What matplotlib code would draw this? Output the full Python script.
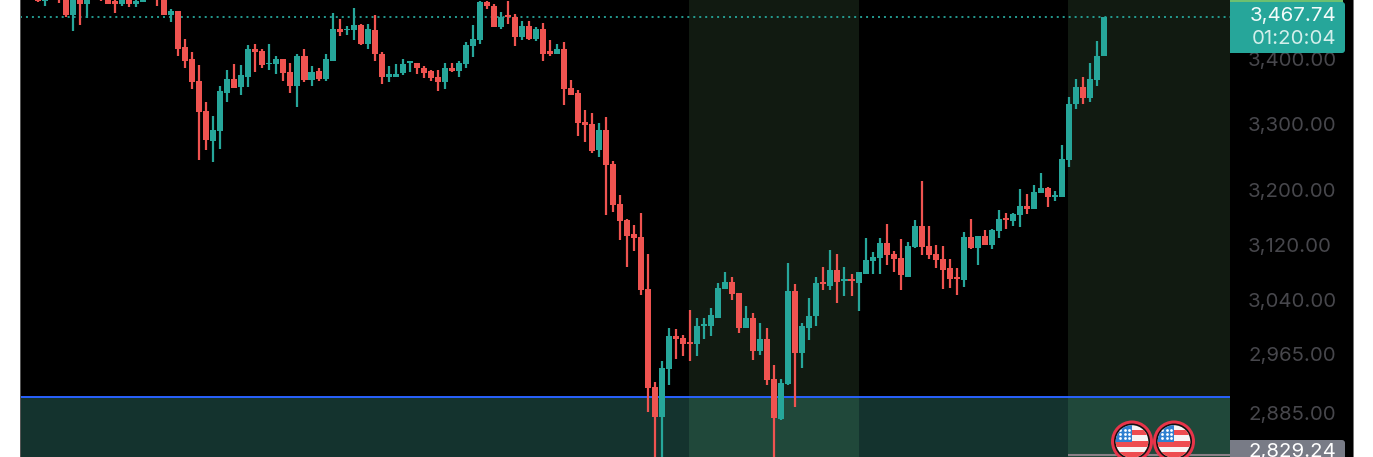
import matplotlib
matplotlib.use("Agg")
import matplotlib.pyplot as plt
from matplotlib.patches import Rectangle, Circle, FancyBboxPatch
from matplotlib.ticker import NullLocator
import numpy as np

plt.rcParams['font.family'] = ['Inter', 'DejaVu Sans']

opens = [3502,3494,3510,3505,3520,3470,3515,3488,3512,3508,
         3505,3493,3489,3500,3488,3491,3508,3510,3498,3470,
         3478,3419,3400,3366,3319,3273,3289,3348,3369,3356,
         3373,3417,3414,3392,3392,3400,3380,3359,3406,3367,
         3381,3369,3398,3449,3446,3446,3454,3425,3446,3409,
         3373,3373,3378,3394,3394,3387,3381,3372,3364,3387,
         3381,3392,3421,3430,3491,3485,3451,3470,3467,3435,
         3453,3433,3449,3413,3409,3417,3355,3348,3302,3299,
         3260,3290,3239,3179,3155,3135,3131,3056,2920,2880,
         2945,2990,2988,2982,2979,3004,3004,3016,3056,3066,
         3050,3002,3015,2970,2986,2931,2877,2924,3053,2967,
         3002,3018,3066,3060,3083,3067,3070,3065,3078,3096,
         3100,3122,3106,3100,3074,3116,3147,3118,3106,3099,
         3086,3074,3069,3131,3115,3133,3120,3140,3158,3154,
         3163,3176,3172,3195,3203,3189,3189,3245,3330,3356,
         3339,3367,3405]
highs = [3507,3506,3516,3510,3525,3525,3520,3520,3518,3512,
         3508,3505,3505,3505,3500,3505,3514,3515,3505,3480,
         3478,3432,3411,3391,3334,3312,3359,3383,3392,3391,
         3422,3425,3416,3424,3405,3401,3394,3408,3416,3389,
         3386,3409,3474,3464,3453,3482,3456,3456,3470,3411,
         3389,3392,3401,3398,3395,3389,3383,3383,3394,3394,
         3398,3427,3454,3494,3493,3488,3475,3493,3472,3461,
         3461,3451,3458,3430,3424,3427,3367,3352,3321,3316,
         3301,3310,3243,3192,3157,3148,3166,3107,2927,2956,
         3002,3000,2992,3026,3015,3015,3030,3065,3080,3073,
         3050,3032,3023,3009,3002,2950,2931,3093,3063,3008,
         3043,3074,3088,3112,3107,3087,3078,3081,3129,3109,
         3129,3150,3110,3128,3123,3155,3213,3147,3120,3118,
         3099,3086,3138,3157,3133,3141,3142,3170,3166,3166,
         3201,3194,3207,3225,3204,3198,3267,3341,3369,3372,
         3394,3429,3467.74]
lows = [3491,3485,3498,3490,3467,3445,3454,3466,3498,3493,
        3488,3474,3485,3483,3483,3491,3498,3486,3470,3459,
        3406,3386,3353,3245,3260,3242,3262,3334,3355,3344,
        3356,3380,3386,3384,3377,3366,3347,3325,3364,3359,
        3366,3366,3398,3437,3438,3430,3422,3416,3398,3362,
        3364,3373,3375,3380,3377,3370,3366,3350,3353,3380,
        3373,3386,3403,3425,3480,3451,3448,3456,3421,3430,
        3430,3429,3398,3405,3409,3328,3345,3281,3272,3255,
        3249,3163,3167,3126,3087,3110,3048,2886,2810,2810,
        2923,2958,2963,2956,2963,2986,2990,3015,3056,3040,
        2994,3002,2957,2964,2923,2810,2876,2923,2893,2946,
        2985,3004,3055,3055,3036,3046,3046,3025,3078,3078,
        3077,3090,3080,3055,3073,3115,3105,3099,3086,3056,
        3058,3048,3059,3113,3090,3120,3113,3129,3142,3147,
        3145,3164,3172,3195,3175,3183,3189,3234,3322,3330,
        3334,3359,3405]
closes = [3493,3502,3505,3496,3470,3520,3488,3515,3505,3497,
          3489,3489,3500,3488,3493,3500,3503,3498,3470,3478,
          3417,3398,3364,3318,3275,3290,3350,3369,3355,3375,
          3417,3411,3391,3395,3400,3378,3359,3406,3367,3380,
          3369,3400,3449,3443,3449,3454,3425,3448,3408,3372,
          3377,3377,3392,3397,3386,3378,3370,3364,3387,3381,
          3394,3422,3432,3491,3485,3451,3467,3467,3435,3453,
          3433,3449,3409,3409,3417,3353,3345,3301,3298,3258,
          3290,3237,3178,3154,3133,3129,3055,2919,2880,2946,
          2990,2986,2979,2979,3004,3007,3019,3058,3066,3049,
          3002,3015,2970,2986,2930,2879,2926,3053,2967,3004,
          3018,3065,3063,3083,3066,3070,3067,3080,3097,3102,
          3122,3105,3099,3076,3118,3147,3116,3105,3097,3084,
          3070,3071,3131,3115,3133,3120,3141,3157,3155,3164,
          3176,3172,3197,3203,3189,3192,3246,3330,3356,3339,
          3369,3406,3467.74]

tick_prices = [3400, 3300, 3200, 3120, 3040, 2965, 2885]
tick_labels = ['3,400.00', '3,300.00', '3,200.00', '3,120.00', '3,040.00', '2,965.00', '2,885.00']
session_zones = [(92.83, 117.0), (146.87, 170.0)]
last_price = 3467.74
last_label = '3,467.74'
countdown = '01:20:04'
support_price = 2906.6
low_label = '2,829.24'
y_bottom, y_top = 2827.0, 3495.0
x_left, x_right = -2.567, 169.97

RED, GREEN = '#ef5350', '#26a69a'
W, H = 1373, 457
LABEL_SIZE = 14.7
fig = plt.figure(figsize=(W/100, H/100), dpi=100, facecolor='white')

# price-axis panel, behind the axes so that its tick labels stay visible
fig.patches.append(Rectangle((1230/W, 0), 123/W, 1, transform=fig.transFigure,
                             facecolor='black', edgecolor='none', zorder=-1))

ax = fig.add_axes([20/W, 0, 1210/W, 1], facecolor='black')
ax.set_yscale('log')
ax.set_xlim(x_left, x_right)
ax.set_ylim(y_bottom, y_top)

for a, b in session_zones:
    ax.axvspan(a, b, color='#111a11', lw=0, zorder=1)
ax.axhspan(y_bottom, support_price, color='#14332e', lw=0, zorder=1.1)
for a, b in session_zones:
    ax.add_patch(Rectangle((a, y_bottom), b-a, support_price-y_bottom, facecolor='#20483a', edgecolor='none', zorder=1.2))

ax.axhline(last_price, color=GREEN, lw=1.3, ls=(0, (1.1, 2.2)), zorder=1.5)
ax.axhline(support_price, color='#2962ff', lw=1.4, zorder=1.6)
ax.hlines(2830.0, session_zones[1][0], session_zones[1][1], color='#8a7f86', lw=1.5, zorder=1.7)

idx = np.arange(len(opens))
o, h, l, c = map(np.array, (opens, highs, lows, closes))
cols = np.where(c >= o, GREEN, RED)
ax.vlines(idx, l, h, colors=cols, lw=1.6, zorder=3)
ax.bar(idx, np.maximum(np.abs(c-o), 1.5), bottom=np.minimum(o, c), width=0.86, color=cols, lw=0, zorder=3.1)

ax.set_xticks([])
ax.yaxis.tick_right()
ax.set_yticks(tick_prices)
ax.set_yticklabels(tick_labels)
ax.yaxis.set_minor_locator(NullLocator())
ax.tick_params(axis='y', length=0, pad=13, labelsize=LABEL_SIZE, labelcolor='#47474c')
for s in ax.spines.values():
    s.set_visible(False)

# overlay in pixel space for the tags, flags and frame edges
ov = fig.add_axes([0, 0, 1, 1], facecolor='none', zorder=5)
ov.set_xlim(0, W)
ov.set_ylim(H, 0)
ov.axis('off')

ov.add_patch(Rectangle((20, 0), 1, H, facecolor='#555555', edgecolor='none'))
ov.add_patch(Rectangle((1352.5, 0), 1, H, facecolor='#777777', edgecolor='none'))

def tag(x0, y0, x1, y1, color):
    ov.add_patch(FancyBboxPatch((x0+3, y0+3), x1-x0-6, y1-y0-6, boxstyle='round,pad=3,rounding_size=3',
                                facecolor=color, edgecolor='none', mutation_aspect=1))
ov.add_patch(Rectangle((1230, 0), 113, 4, facecolor='#6dc070', edgecolor='none'))
tag(1230, 2, 1345, 53, GREEN)
ov.add_patch(Rectangle((1230, 2), 8, 51, facecolor=GREEN, edgecolor='none'))
ov.text(1336, 16.5, last_label, ha='right', va='center', color='#f2fbfa', fontsize=LABEL_SIZE)
ov.text(1336, 39, countdown, ha='right', va='center', color='#d3efeb', fontsize=LABEL_SIZE)

tag(1230, 440, 1345, 470, '#787b86')
ov.add_patch(Rectangle((1230, 440), 8, 20, facecolor='#787b86', edgecolor='none'))
ov.text(1336, 452.5, low_label, ha='right', va='center', color='white', fontsize=LABEL_SIZE)

def flag(cx, cy):
    ov.add_patch(Circle((cx, cy), 21, facecolor='#e8344a', edgecolor='none', zorder=6))
    ov.add_patch(Circle((cx, cy), 18, facecolor='#111111', edgecolor='none', zorder=6.1))
    disc = Circle((cx, cy), 16.3, facecolor='#f8f4f4', edgecolor='none', zorder=6.2)
    ov.add_patch(disc)
    for y0, y1 in [(-12, -6.5), (-0.5, 5), (10.5, 17)]:
        r = Rectangle((cx-17, cy+y0), 34, y1-y0, facecolor='#ee4c50', edgecolor='none', zorder=6.3)
        ov.add_patch(r)
        r.set_clip_path(disc)
    r = Rectangle((cx-17, cy-17), 16.5, 17.5, facecolor='#2f80d0', edgecolor='none', zorder=6.4)
    ov.add_patch(r)
    r.set_clip_path(disc)
    for dy in (-12, -8, -4):
        for dx in (-12, -7.5, -3):
            pts = ov.scatter([cx+dx], [cy+dy], s=4, color='white', lw=0, zorder=6.5)
            pts.set_clip_path(disc)

flag(1132, 441.5)
flag(1174, 441.5)

fig.savefig('out.png', dpi=100, facecolor='white')
